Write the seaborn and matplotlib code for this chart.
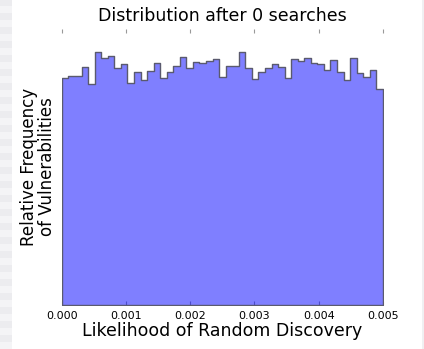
import numpy as np
import pandas as pd
import matplotlib
matplotlib.use("Agg")
import matplotlib.pyplot as plt
import seaborn as sns
from matplotlib.patches import Rectangle

# =========================
# Datos (frecuencia relativa por bin)
# =========================
x_min = 0.0
x_max = 0.005
n_bins = 49
frecuencias = [
    0.01977, 0.01987, 0.01994, 0.02072, 0.01922, 0.02203, 0.02148, 0.02168,
    0.02063, 0.02093, 0.01930, 0.02022, 0.01957, 0.02035, 0.02102, 0.01977,
    0.02029, 0.02078, 0.02154, 0.02063, 0.02116, 0.02107, 0.02124, 0.02139,
    0.01983, 0.02081, 0.02081, 0.02197, 0.02058, 0.01963, 0.02029, 0.02058,
    0.02093, 0.02072, 0.01971, 0.02139, 0.02124, 0.02145, 0.02107, 0.02096,
    0.02039, 0.02130, 0.02029, 0.01959, 0.02145, 0.02015, 0.01985, 0.02043,
    0.01880,
]
x_ticks = [0.000, 0.001, 0.002, 0.003, 0.004, 0.005]
titulo = "Distribution after 0 searches"
etiqueta_x = "Likelihood of Random Discovery"
etiqueta_y = "Relative Frequency\nof Vulnerabilities"

sns.set_style("white")
plt.rcParams["font.family"] = ["DejaVu Sans"]
plt.rcParams["text.color"] = "black"
plt.rcParams["axes.labelcolor"] = "black"
plt.rcParams["xtick.color"] = "black"

bordes = np.linspace(x_min, x_max, n_bins + 1)
centros = (bordes[:-1] + bordes[1:]) / 2
df = pd.DataFrame({"Likelihood": centros, "Frecuencia": frecuencias})

fig = plt.figure(figsize=(4.24, 3.49), dpi=100)
ax = fig.add_axes([0.146, 0.126, 0.757, 0.791])

sns.histplot(
    data=df, x="Likelihood", weights="Frecuencia",
    bins=n_bins, binrange=(x_min, x_max),
    element="step", fill=True, color="#0000ff", alpha=0.5,
    edgecolor="#5a5a6e", linewidth=1.0, ax=ax,
)

ax.set_xlim(x_min, x_max)
ax.set_ylim(0, 0.024)
ax.set_xticks(x_ticks)
ax.set_xticklabels([f"{t:.3f}" for t in x_ticks], fontsize=8)
ax.set_yticks([])
ax.tick_params(axis="x", direction="in", length=3, width=0.8, color="#999999",
               labelcolor="black", top=True, bottom=True, pad=4)
for s in ax.spines.values():
    s.set_visible(False)

ax.set_title(titulo, fontsize=12.5, pad=6, color="black")
ax.set_xlabel(etiqueta_x, fontsize=12.5, labelpad=1)
ax.set_ylabel(etiqueta_y, fontsize=12, labelpad=4, linespacing=1.0)

# Franjas grises de los bordes (captura de pantalla)
fig.patches.append(Rectangle((0, 0), 12 / 424, 1, transform=fig.transFigure,
                             facecolor="#ececef", edgecolor="none", zorder=-1))
for i in range(0, 349, 14):
    fig.patches.append(Rectangle((0, i / 349), 12 / 424, 7 / 349,
                                 transform=fig.transFigure,
                                 facecolor="#f4f4f6", edgecolor="none", zorder=-1))
fig.patches.append(Rectangle((422 / 424, 0), 2 / 424, 1, transform=fig.transFigure,
                             facecolor="#f0f0f2", edgecolor="none", zorder=-1))

fig.savefig("out.png", dpi=100)
